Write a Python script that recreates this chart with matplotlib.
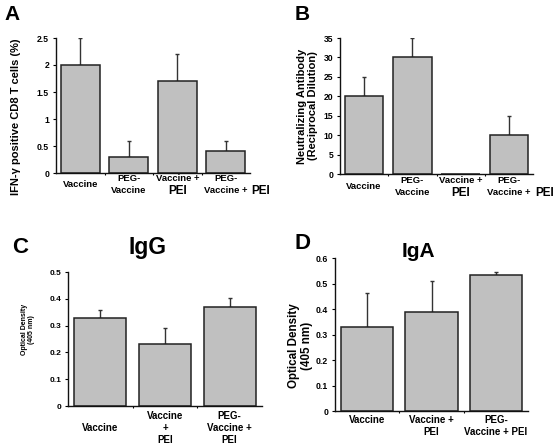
import matplotlib
matplotlib.use("Agg")
import matplotlib.pyplot as plt
import numpy as np

plt.rcParams['font.family'] = ['Liberation Sans', 'DejaVu Sans']
plt.rcParams['font.weight'] = 'bold'

# ---- data ----
a_labels = ["Vaccine", "PEG-\nVaccine", "Vaccine +\nPEI", "PEG-\nVaccine + PEI"]
a_values = [2.0, 0.3, 1.7, 0.4]
a_errors = [0.5, 0.3, 0.5, 0.2]
a_yticks = [0, 0.5, 1, 1.5, 2, 2.5]

b_labels = ["Vaccine", "PEG-\nVaccine", "Vaccine +\nPEI", "PEG-\nVaccine + PEI"]
b_values = [20, 30, 0, 10]
b_errors = [5, 5, 0, 5]
b_yticks = [0, 5, 10, 15, 20, 25, 30, 35]

c_labels = ["Vaccine", "Vaccine\n+\nPEI", "PEG-\nVaccine +\nPEI"]
c_values = [0.33, 0.232, 0.368]
c_errors = [0.03, 0.06, 0.034]
c_yticks = [0, 0.1, 0.2, 0.3, 0.4, 0.5]

d_labels = ["Vaccine", "Vaccine +\nPEI", "PEG-\nVaccine + PEI"]
d_values = [0.328, 0.39, 0.535]
d_errors = [0.133, 0.12, 0.012]
d_yticks = [0, 0.1, 0.2, 0.3, 0.4, 0.5, 0.6]

W, H = 558, 444
fig = plt.figure(figsize=(W / 100, H / 100), dpi=100)


def make_axes(l, r, t, b):
    return fig.add_axes([l / W, 1 - b / H, (r - l) / W, (b - t) / H])


def draw_panel(ax, labels, values, errors, yticks, ylabel, ylab_pos, ylab_size,
               tick_size, xlab_size, big_pei, label_va, label_off, line_h, bar_w):
    n = len(values)
    x = np.arange(n)
    ax.bar(x, values, width=bar_w, color='#c0c0c0', edgecolor='#222222',
           linewidth=1.1, zorder=2)
    for xi, v, e in zip(x, values, errors):
        if e > 0:
            ax.errorbar(xi, v, yerr=[[0], [e]], fmt='none', ecolor='#333333',
                        elinewidth=1.0, capsize=1.2, capthick=1.0, zorder=1)
    ax.set_xlim(-0.5, n - 0.5)
    ax.set_ylim(yticks[0], yticks[-1])
    ax.set_yticks(yticks)
    ax.set_yticklabels(['%g' % t for t in yticks], fontsize=tick_size,
                       fontweight='bold')
    ax.set_xticks([])
    ax.set_xticks(np.arange(1, n) - 0.5, minor=True)
    ax.tick_params(axis='x', which='minor', length=1.5, width=0.8, direction='out')
    ax.tick_params(axis='y', length=2.5, width=0.8, direction='out', pad=2.5)
    for s in ['top', 'right']:
        ax.spines[s].set_visible(False)
    for s in ['left', 'bottom']:
        ax.spines[s].set_linewidth(1.0)
        ax.spines[s].set_color('#111111')
    ax.set_ylabel(ylabel, fontsize=ylab_size, fontweight='bold', linespacing=1.1)
    ax.yaxis.set_label_coords(*ylab_pos)

    for i, lab in enumerate(labels):
        lines = lab.split('\n')
        nl = len(lines)
        if label_va == 'center':
            start = label_off - (nl - 1) * line_h / 2
        else:
            start = label_off
        for k, line in enumerate(lines):
            yoff = -(start + k * line_h)
            if big_pei and line.endswith('PEI'):
                prefix = line[:-3].rstrip()
                if prefix:
                    t = ax.annotate(prefix, xy=(i, 0), xycoords=('data', 'axes fraction'),
                                    xytext=(0, yoff), textcoords='offset points',
                                    ha='center', va='center', fontsize=xlab_size,
                                    fontweight='bold')
                    ax.annotate('PEI', xy=(1, 0.5), xycoords=t,
                                xytext=(3.0, -0.6), textcoords='offset points',
                                ha='left', va='center', fontsize=xlab_size * 1.25,
                                fontweight='bold')
                else:
                    ax.annotate('PEI', xy=(i, 0), xycoords=('data', 'axes fraction'),
                                xytext=(0, yoff - 0.8), textcoords='offset points',
                                ha='center', va='center', fontsize=xlab_size * 1.25,
                                fontweight='bold')
            else:
                ax.annotate(line, xy=(i, 0), xycoords=('data', 'axes fraction'),
                            xytext=(0, yoff), textcoords='offset points',
                            ha='center', va='center', fontsize=xlab_size,
                            fontweight='bold')


axA = make_axes(56, 250, 38, 173)
draw_panel(axA, a_labels, a_values, a_errors, a_yticks,
           'IFN-\u03b3 positive CD8 T cells (%)', (-0.18, 0.42), 8.0,
           6.2, 6.8, True, 'center', 8.0, 8.6, 0.8)

axB = make_axes(340, 533, 38, 174)
draw_panel(axB, b_labels, b_values, b_errors, b_yticks,
           'Neutralizing Antibody\n(Reciprocal Dilution)', (-0.114, 0.5), 8.0,
           6.2, 6.8, True, 'center', 9.0, 8.4, 0.8)

axC = make_axes(68, 262, 272, 406)
draw_panel(axC, c_labels, c_values, c_errors, c_yticks,
           'Optical Density\n(405 nm)', (-0.17, 0.57), 5.0,
           6.0, 7.0, False, 'center', 15.8, 8.6, 0.8)

axD = make_axes(335, 528, 258, 411)
draw_panel(axD, d_labels, d_values, d_errors, d_yticks,
           'Optical Density\n(405 nm)', (-0.114, 0.425), 8.4,
           6.3, 7.0, False, 'top', 6.5, 8.3, 0.81)

# panel letters and titles
fig.text(4 / W, 1 - 20 / H, 'A', fontsize=15, fontweight='bold', va='baseline')
fig.text(295 / W, 1 - 20 / H, 'B', fontsize=15, fontweight='bold', va='baseline')
fig.text(12 / W, 1 - 253 / H, 'C', fontsize=16, fontweight='bold', va='baseline')
fig.text(295 / W, 1 - 249 / H, 'D', fontsize=16, fontweight='bold', va='baseline')
fig.text(148 / W, 1 - 254 / H, 'IgG', fontsize=16.5, fontweight='bold',
         va='baseline', ha='center')
fig.text(418 / W, 1 - 257 / H, 'IgA', fontsize=15, fontweight='bold',
         va='baseline', ha='center')

fig.savefig('out.png', dpi=100, facecolor='white')
